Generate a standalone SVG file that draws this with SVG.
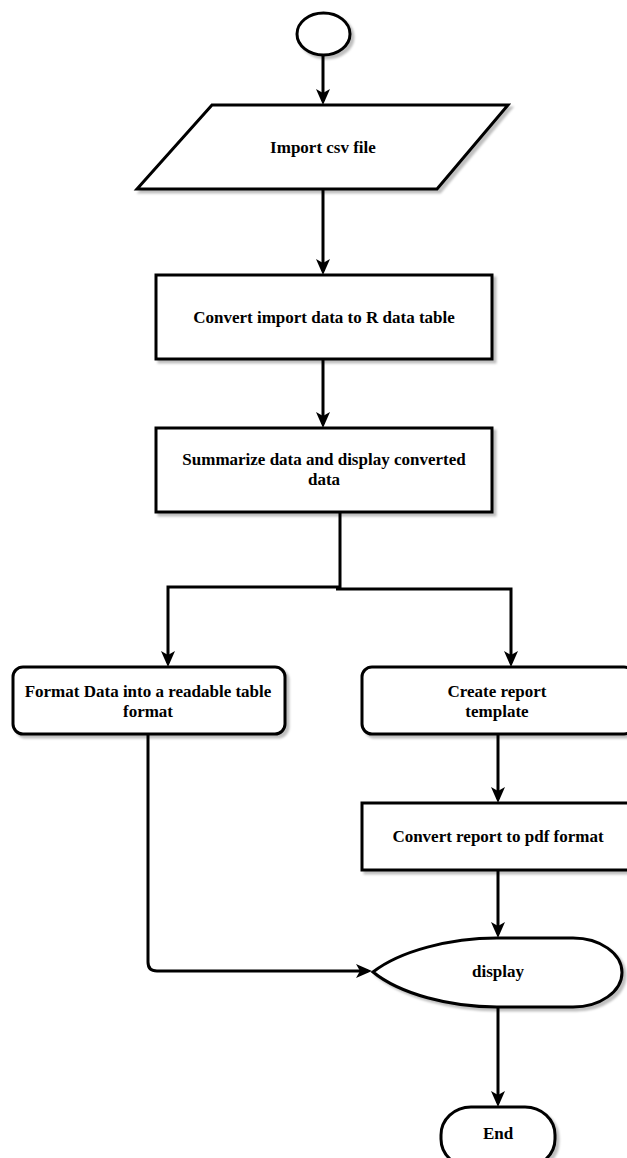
<svg xmlns="http://www.w3.org/2000/svg" width="627" height="1158" viewBox="0 0 627 1158">
<style>
.shape{fill:#fff;stroke:#000;stroke-width:3;filter:url(#sh)}
.edge{fill:none;stroke:#000;stroke-width:3;marker-end:url(#arr)}
.plain{fill:none;stroke:#000;stroke-width:3}
text{font-family:"Liberation Serif","Times New Roman",serif;font-weight:bold;font-size:17px;text-anchor:middle;fill:#000}
</style>
<defs>
<filter id="sh" x="-10%" y="-10%" width="130%" height="130%">
<feDropShadow dx="3" dy="3" stdDeviation="1" flood-color="#000" flood-opacity="0.25"/>
</filter>
<marker id="arr" markerUnits="userSpaceOnUse" markerWidth="16" markerHeight="14" viewBox="0 0 16 14" refX="12" refY="7" orient="auto">
<path d="M0,0 L16,7 L0,14 L4,7 Z" fill="#000"/>
</marker>
</defs>
<rect width="627" height="1158" fill="#fff"/>
<g id="connectors">
<path class="edge" d="M323,55 L323,101"/>
<path class="edge" d="M323,189 L323,271"/>
<path class="edge" d="M323,359 L323,424"/>
<path class="edge" d="M340,512 L340,587 L168,587 L168,663"/>
<path class="edge" d="M336,589 L511,589 L511,663"/>
<path class="edge" d="M498,734 L498,799"/>
<path class="edge" d="M498,870 L498,934"/>
<path class="edge" d="M148,734 L148,962 Q148,971 157,971 L368,971"/>
<path class="edge" d="M498,1007 L498,1103"/>
</g>
<g id="start">
<ellipse class="shape" cx="323.5" cy="34" rx="26.5" ry="21"/>
</g>
<g id="import">
<polygon class="shape" points="212,105 508,105 437,189 137,189"/>
<text x="323" y="153">Import csv file</text>
</g>
<g id="convert">
<rect class="shape" x="156" y="275" width="336" height="84"/>
<text x="324" y="323">Convert import data to R data table</text>
</g>
<g id="summarize">
<rect class="shape" x="156" y="428" width="336" height="84"/>
<text x="324" y="465">Summarize data and display converted</text>
<text x="324" y="485">data</text>
</g>
<g id="format">
<rect class="shape" x="13" y="667" width="272" height="67" rx="10" ry="10"/>
<text x="148" y="697">Format Data into a readable table</text>
<text x="148" y="717">format</text>
</g>
<g id="template">
<rect class="shape" x="362" y="667" width="272" height="67" rx="10" ry="10"/>
<text x="497" y="697">Create report</text>
<text x="497" y="717">template</text>
</g>
<g id="pdf">
<rect class="shape" x="362" y="803" width="272" height="67"/>
<text x="498" y="842">Convert report to pdf format</text>
</g>
<g id="display">
<path class="shape" d="M373,972 C400,951 450,938 497,938 L573,938 A49,34.5 0 0 1 573,1007 L497,1007 C450,1007 400,994 373,972 Z"/>
<text x="498" y="977">display</text>
</g>
<g id="end">
<rect class="shape" x="441" y="1107" width="114" height="60" rx="30" ry="28"/>
<text x="498" y="1139">End</text>
</g>
</svg>
